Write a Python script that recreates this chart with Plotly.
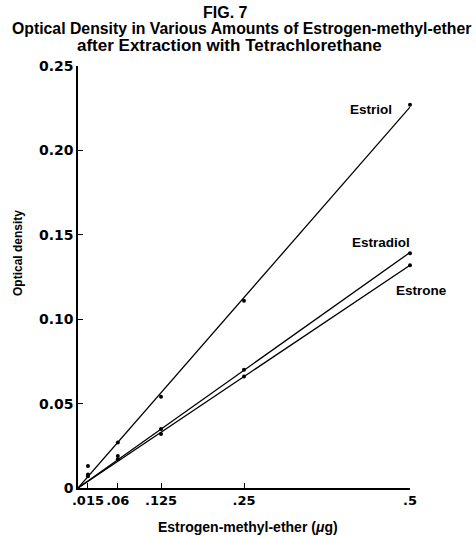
import numpy as np
import plotly.graph_objects as go

# Data
amount_ug = [0.015, 0.06, 0.125, 0.25, 0.5]
estriol = [0.013, 0.027, 0.054, 0.111, 0.227]
estradiol = [0.008, 0.019, 0.035, 0.070, 0.139]
estrone = [0.007, 0.017, 0.032, 0.066, 0.132]

x_tickvals = [0.015, 0.06, 0.125, 0.25, 0.5]
x_ticktext = [".015", ".06", ".125", ".25", ".5"]
y_tickvals = [0, 0.05, 0.10, 0.15, 0.20, 0.25]
y_ticktext = ["0", "0.05", "0.10", "0.15", "0.20", "0.25"]

series = [("Estriol", estriol), ("Estradiol", estradiol), ("Estrone", estrone)]

SANS = "Liberation Sans, Arial, sans-serif"
WIDE = "DejaVu Sans, sans-serif"

W, H = 476, 537
X0, X1, Y0, Y1 = 78, 410, 488, 66  # plot area in pixels


def px_to_paper(xp, yp):
    return (xp - X0) / (X1 - X0), (Y0 - yp) / (Y0 - Y1)


fig = go.Figure()
xa = np.array(amount_ug)
for name, vals in series:
    ya = np.array(vals)
    slope = float((xa * ya).sum() / (xa * xa).sum())  # straight line through origin
    xl = [0, max(amount_ug)]
    fig.add_trace(go.Scatter(
        x=xl, y=[slope * v for v in xl], mode="lines",
        line=dict(color="black", width=1.3), cliponaxis=False, showlegend=False,
        hoverinfo="skip",
    ))
    fig.add_trace(go.Scatter(
        x=amount_ug, y=vals, mode="markers", name=name,
        marker=dict(color="black", size=4), cliponaxis=False, showlegend=False,
    ))

annotations = []
for text, (xp, yp), size, fam in [
    ("<b>Estriol</b>", (371, 110), 13.5, SANS),
    ("<b>Estradiol</b>", (381, 243), 13.5, SANS),
    ("<b>Estrone</b>", (421, 290), 13.5, SANS),
    ("<b>FIG. 7</b>", (225, 13), 16, SANS),
    ("<b>Optical Density in Various Amounts of Estrogen-methyl-ether</b>", (241, 29), 15.8, SANS),
    ("<b>after Extraction with Tetrachlorethane</b>", (229, 45), 17, SANS),
    ("<b>Estrogen-methyl-ether (<i>μ</i>g)</b>", (248, 527), 14, SANS),
]:
    px, py = px_to_paper(xp, yp)
    annotations.append(dict(x=px, y=py, xref="paper", yref="paper", text=text, showarrow=False,
                            xanchor="center", yanchor="middle",
                            font=dict(size=size, color="black", family=fam)))

px, py = px_to_paper(18, 253)
annotations.append(dict(x=px, y=py, xref="paper", yref="paper", text="<b>Optical density</b>",
                        showarrow=False, textangle=-90, xanchor="center", yanchor="middle",
                        font=dict(size=12, color="black", family=SANS)))

fig.update_layout(
    width=W, height=H,
    margin=dict(l=X0, r=W - X1, t=Y1, b=H - Y0, pad=0),
    paper_bgcolor="white", plot_bgcolor="white",
    font=dict(family=SANS, color="black"),
    annotations=annotations,
    xaxis=dict(
        range=[0, 0.5], tickvals=x_tickvals, ticktext=[f"<b>{t}</b>" for t in x_ticktext],
        tickangle=0,
        showgrid=False, zeroline=False, showline=True, linecolor="black", linewidth=1.5,
        ticks="inside", ticklen=5, tickcolor="black", tickwidth=1.2,
        tickfont=dict(size=13, family=WIDE, color="black"),
    ),
    yaxis=dict(
        range=[0, 0.25], tickvals=y_tickvals, ticktext=[f"<b>{t}</b>" for t in y_ticktext],
        showgrid=False, zeroline=False, showline=True, linecolor="black", linewidth=1.5,
        ticks="inside", ticklen=5, tickcolor="black", tickwidth=1.2,
        tickfont=dict(size=14, family=WIDE, color="black"),
    ),
)

fig.write_html("out.html", config={"displayModeBar": False},
               post_script="document.body.style.margin='0';")
